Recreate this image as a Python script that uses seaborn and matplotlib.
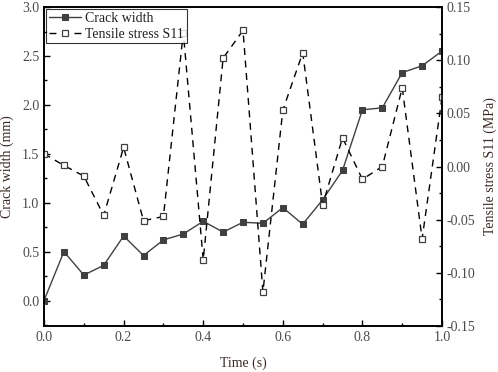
import numpy as np
import pandas as pd
import seaborn as sns
import matplotlib.pyplot as plt
from matplotlib.ticker import MultipleLocator

sns.set_theme(style="ticks")
plt.rcParams["font.family"] = ["Liberation Serif", "DejaVu Serif"]

time_s = [0.0, 0.05, 0.1, 0.15, 0.2, 0.25, 0.3, 0.35, 0.4, 0.45, 0.5,
          0.55, 0.6, 0.65, 0.7, 0.75, 0.8, 0.85, 0.9, 0.95, 1.0]
crack_width = [0.0, 0.50, 0.26, 0.36, 0.66, 0.46, 0.62, 0.68, 0.81, 0.70, 0.80,
               0.79, 0.95, 0.78, 1.03, 1.33, 1.95, 1.97, 2.33, 2.40, 2.55]
tensile_s11 = [0.012, 0.001, -0.009, -0.046, 0.018, -0.051, -0.047, 0.126, -0.088, 0.102, 0.128,
               -0.118, 0.053, 0.107, -0.036, 0.027, -0.012, 0.0, 0.074, -0.068, 0.065]

df = pd.DataFrame({"time": time_s, "crack": crack_width, "stress": tensile_s11})

tick_col = "#4a4a4a"
label_col = "#3a2a26"

fig = plt.figure(figsize=(4.98, 3.72), dpi=100)
ax = fig.add_axes([0.0884, 0.1237, 0.7992, 0.8573])
ax2 = ax.twinx()

sns.lineplot(data=df, x="time", y="crack", ax=ax, color="#404040", linewidth=1.0,
             marker="s", markersize=4.6, markerfacecolor="#404040", markeredgecolor="#404040",
             label="Crack width", legend=False)
sns.lineplot(data=df, x="time", y="stress", ax=ax2, color="black", linewidth=1.0,
             linestyle=(0, (5, 4)), marker="s", markersize=4.6, markerfacecolor="white",
             markeredgecolor="#404040", markeredgewidth=0.9,
             label="Tensile stress S11", legend=False)

ax.set_xlim(0, 1.0)
ax.set_ylim(-0.26, 3.0)
ax2.set_ylim(-0.15, 0.15)

ax.xaxis.set_major_locator(MultipleLocator(0.2))
ax.xaxis.set_minor_locator(MultipleLocator(0.1))
ax.yaxis.set_major_locator(MultipleLocator(0.5))
ax.yaxis.set_minor_locator(MultipleLocator(0.25))
ax2.yaxis.set_major_locator(MultipleLocator(0.05))
ax2.yaxis.set_minor_locator(MultipleLocator(0.025))
ax.set_xticklabels([f"{v:.1f}" for v in ax.get_xticks()])
ax.set_yticklabels([f"{v:.1f}" for v in ax.get_yticks()])
ax2.set_yticklabels([f"{v:.2f}" for v in ax2.get_yticks()])

for a in (ax, ax2):
    a.tick_params(which="both", direction="in", colors="black", labelcolor=tick_col, labelsize=10)
    a.tick_params(which="major", length=4, width=1)
    a.tick_params(which="minor", length=2.5, width=1)
    for s in a.spines.values():
        s.set_linewidth(1.2)
        s.set_color("black")

ax.set_xlabel("Time (s)", fontsize=10, color=label_col, labelpad=9)
ax.set_ylabel("Crack width (mm)", fontsize=10, color=label_col, labelpad=6)
ax2.set_ylabel("Tensile stress S11 (MPa)", fontsize=10, color=label_col, labelpad=6)

h1, l1 = ax.get_legend_handles_labels()
h2, l2 = ax2.get_legend_handles_labels()
leg = ax2.legend(h1 + h2, l1 + l2, loc="upper left", fontsize=10, frameon=True, fancybox=False,
                 edgecolor="black", borderaxespad=0.15, handlelength=2.3, borderpad=0.2,
                 labelspacing=0.2, handletextpad=0.3)
leg.get_frame().set_linewidth(0.8)
for t in leg.get_texts():
    t.set_color("#222222")

fig.savefig("out.png", dpi=100)
